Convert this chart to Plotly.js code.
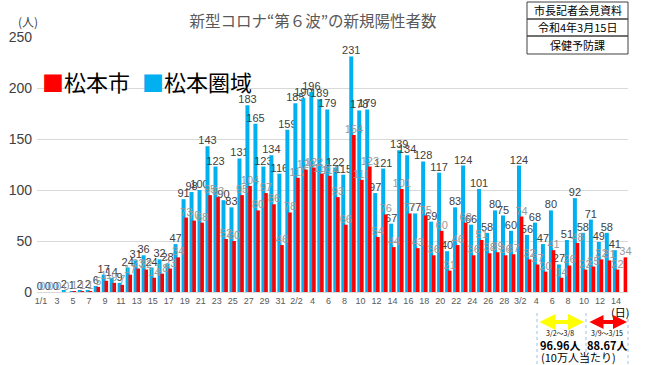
<!DOCTYPE html>
<html>
<head>
<meta charset="utf-8">
<script src="https://cdn.plot.ly/plotly-3.0.1.min.js"></script>
<style>html,body{margin:0;padding:0;background:#fff;}#chart{width:650px;height:365px;}</style>
</head>
<body>
<div id="chart"></div>
<script>
const dates = [
 "1/1","1/2","1/3","1/4","1/5","1/6","1/7","1/8","1/9","1/10","1/11","1/12","1/13","1/14","1/15","1/16",
 "1/17","1/18","1/19","1/20","1/21","1/22","1/23","1/24","1/25","1/26","1/27","1/28","1/29","1/30","1/31",
 "2/1","2/2","2/3","2/4","2/5","2/6","2/7","2/8","2/9","2/10","2/11","2/12","2/13","2/14","2/15","2/16",
 "2/17","2/18","2/19","2/20","2/21","2/22","2/23","2/24","2/25","2/26","2/27","2/28",
 "3/1","3/2","3/3","3/4","3/5","3/6","3/7","3/8","3/9","3/10","3/11","3/12","3/13","3/14","3/15"
];
const tickLabels = [
 "1/1","3","5","7","9","11","13","15","17","19","21","23","25","27","29","31",
 "2/2","4","6","8","10","12","14","16","18","20","22","24","26","28",
 "3/2","4","6","8","10","12","14"
];
// 松本圏域
const areaCases = [0,0,0,2,1,2,2,6,17,14,9,24,31,36,24,32,28,47,91,98,100,143,123,90,83,
 131,183,165,123,134,116,159,185,190,196,189,179,122,115,231,178,179,
 97,121,67,139,134,77,128,69,117,40,83,124,66,101,58,
 80,75,60,124,56,68,47,80,27,51,92,58,71,49,58,41,null];
// 松本市
const cityCases = [0,0,0,0,1,1,1,5,11,9,7,17,23,22,14,18,23,34,73,70,68,95,93,52,50,
 95,104,80,97,86,46,78,112,120,122,116,114,93,66,154,110,123,
 54,76,44,101,77,43,75,36,60,21,46,68,36,51,38,
 39,36,37,74,32,27,20,41,14,26,48,22,25,32,31,22,34];

const L = 37, R = 628, T = 37, B = 292;
const px = v => (v - L) / (R - L);
const py = v => (B - v) / (B - T);
const JP = '"Noto Sans CJK JP", sans-serif';
const NUM = '"Liberation Sans", Arial, sans-serif';

const tickVals = dates.filter((d, i) => i % 2 === 0);

const traces = [
 {type:'bar', name:'松本圏域', x:dates, y:areaCases, marker:{color:'#00b0f0'},
  offset:-0.4, width:0.5, text:areaCases.map(v => v === null ? '' : String(v)),
  textposition:'outside', constraintext:'none', cliponaxis:false,
  textfont:{family:NUM, size:11, color:'#404040'}, hoverinfo:'x+y'},
 {type:'bar', name:'松本市', x:dates, y:cityCases, marker:{color:'#ff0000'},
  offset:-0.05, width:0.45, text:cityCases.map(v => String(v)),
  textposition:'outside', constraintext:'none', cliponaxis:false,
  textfont:{family:NUM, size:11, color:'#999999'}, hoverinfo:'x+y'}
];

const ann = [];
function txt(x, y, text, size, color, opts) {
  ann.push(Object.assign({xref:'paper', yref:'paper', x:px(x), y:py(y), text:text, showarrow:false,
    font:{family:JP, size:size, color:color}, xanchor:'center', yanchor:'middle'}, opts || {}));
}
txt(28, 21, '(人)', 12, '#404040');
txt(40, 81, '<span style="color:#ff0000">■</span>松本市', 22, '#000000', {xanchor:'left'});
txt(140, 81, '<span style="color:#00b0f0">■</span>松本圏域', 22, '#000000', {xanchor:'left'});
txt(577.5, 10.5, '市長記者会見資料', 11, '#000000');
txt(577.5, 27.5, '令和4年3月15日', 11, '#000000');
txt(577.5, 45, '保健予防課', 11, '#000000');
txt(620, 312, '(日)', 11, '#000000');
txt(560, 333, '3/2～3/8', 7, '#000000');
txt(607, 333, '3/9～3/15', 7, '#000000');
txt(560, 345, '96.96人', 11, '#000000', {font:{family:JP, size:11, color:'#000', weight:'bold'}});
txt(607, 345, '88.67人', 11, '#000000', {font:{family:JP, size:11, color:'#000', weight:'bold'}});
txt(578, 357, '(10万人当たり)', 11, '#000000');
// double arrows
function dbl(x0, x1, y, color, size) {
  ann.push({xref:'paper', yref:'paper', x:px(x1), y:py(y), ax:x0 - x1, ay:0, axref:'pixel', ayref:'pixel',
    text:'', showarrow:true, arrowside:'end+start', arrowhead:2, arrowsize:size, arrowwidth:4, arrowcolor:color, standoff:0, startstandoff:0});
}
dbl(538, 584, 322, '#ffff00', 0.8);
dbl(588, 627, 322, '#ff0000', 0.7);

const shapes = [];
[[2,19],[19,36],[36,54]].forEach(r => shapes.push({type:'rect', xref:'paper', yref:'paper',
  x0:px(527), x1:px(628), y0:py(r[0]), y1:py(r[1]), line:{color:'#404040', width:1}, fillcolor:'rgba(0,0,0,0)'}));
[537, 586, 628].forEach(x => shapes.push({type:'line', xref:'paper', yref:'paper',
  x0:px(x), x1:px(x), y0:py(313), y1:py(365), line:{color:'#9dc3e6', width:1, dash:'dot'}}));

const layout = {
  width:650, height:365,
  margin:{l:L, r:650 - R, t:T, b:365 - B},
  paper_bgcolor:'#ffffff', plot_bgcolor:'#ffffff',
  barmode:'overlay', showlegend:false,
  title:{text:'新型コロナ“第６波”の新規陽性者数', font:{family:JP, size:15.5, color:'#595959'},
    xref:'container', yref:'container', x:313/650, xanchor:'center', y:1 - 22/365, yanchor:'middle'},
  xaxis:{type:'category', tickmode:'array', tickvals:tickVals, ticktext:tickLabels,
    tickfont:{family:NUM, size:9, color:'#595959'}, showgrid:false, showline:true,
    linecolor:'#d9d9d9', ticks:'', tickangle:0, range:[-0.5, dates.length - 0.5]},
  yaxis:{range:[0,250], dtick:50, tickfont:{family:NUM, size:14, color:'#404040'},
    gridcolor:'#d9d9d9', zeroline:false, showline:false, ticks:'', ticklabelstandoff:4},
  annotations:ann, shapes:shapes
};
Plotly.newPlot('chart', traces, layout, {staticPlot:true});
</script>
</body>
</html>
